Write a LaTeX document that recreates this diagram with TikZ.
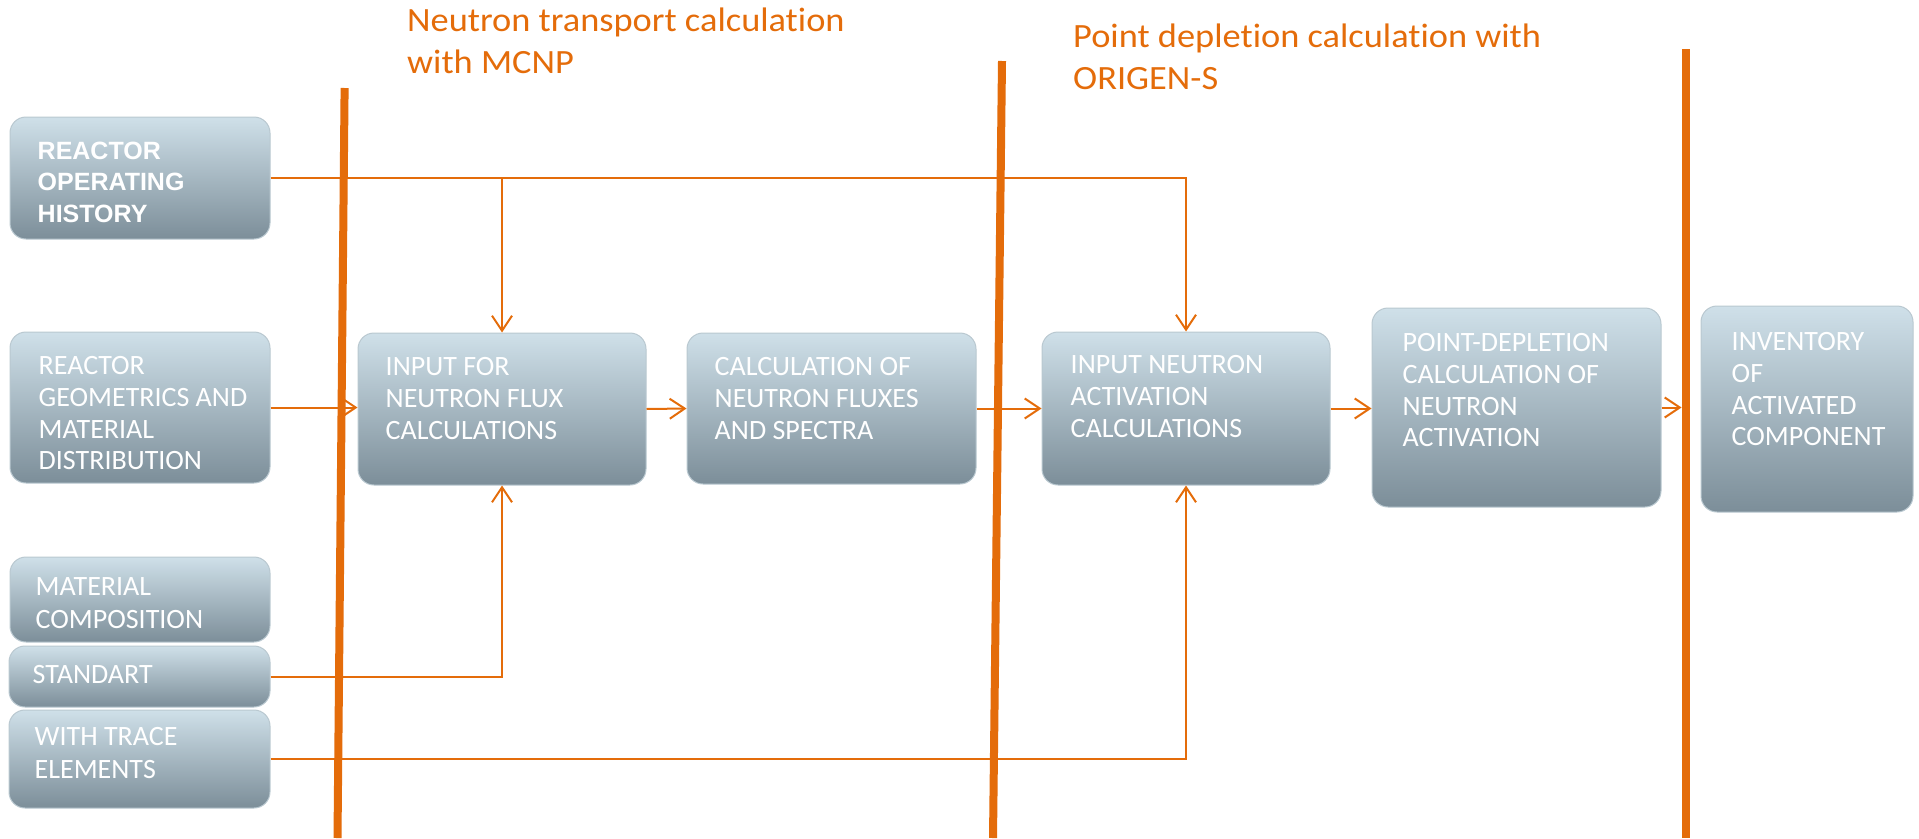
\documentclass[tikz,border=0pt]{standalone}
\usepackage{fontspec}
\setmainfont[Ligatures=NoCommon]{Carlito}
\newfontfamily\titlefont[FakeStretch=1.07,Ligatures=NoCommon]{Carlito}
\newfontfamily\boldsans{Liberation Sans}
\usetikzlibrary{arrows.meta,calc}
\definecolor{orng}{HTML}{E46C0A}
\definecolor{boxtop}{HTML}{CFE0E9}
\definecolor{boxbot}{HTML}{7C8E99}
\definecolor{boxline}{HTML}{B9C8D0}
\begin{document}
\begin{tikzpicture}[x=1pt,y=-1pt,
  box/.style={rectangle, rounded corners=16pt, draw=boxline, line width=1pt,
    top color=boxtop, bottom color=boxbot, inner sep=0pt},
  txt/.style={anchor=north west, inner sep=0pt, align=left, text=white,
    font=\fontsize{28}{31.7}\selectfont},
  boldtxt/.style={anchor=north west, inner sep=0pt, align=left, text=white,
    font=\boldsans\bfseries\fontsize{25}{31.7}\selectfont},
  conn/.style={draw=orng, line width=2pt, -{Straight Barb[length=15pt,width=20pt]}},
  sepline/.style={draw=orng, line width=8pt},
  titletxt/.style={anchor=north west, inner sep=0pt, align=left, text=orng,
    font=\titlefont\fontsize{34}{42}\selectfont}]
\useasboundingbox (0,0) rectangle (1919,838);

% boxes
\node[box, minimum width=260pt, minimum height=122pt] (b1) at (140,178) {};
\node[box, minimum width=260pt, minimum height=151pt] (b2) at (140,407.5) {};
\node[box, minimum width=260pt, minimum height=85pt] (b3) at (140,599.5) {};
\node[box, minimum width=261pt, minimum height=61pt] (b4) at (139.5,676.5) {};
\node[box, minimum width=261pt, minimum height=98pt] (b5) at (139.5,759) {};
\node[box, minimum width=288pt, minimum height=152pt] (influx) at (502,409) {};
\node[box, minimum width=289pt, minimum height=151pt] (calc) at (831.5,408.5) {};
\node[box, minimum width=288pt, minimum height=153pt] (inact) at (1186,408.5) {};
\node[box, minimum width=289pt, minimum height=199pt] (pd) at (1516.5,407.5) {};
\node[box, minimum width=212pt, minimum height=206pt] (inv) at (1807,409) {};

% texts
\node[boldtxt] (t1) at ($(b1.north west)+(28,25)$) {REACTOR\\OPERATING\\HISTORY};
\node[txt] (t2) at ($(b2.north west)+(29,25)$) {REACTOR\\GEOMETRICS AND\\MATERIAL\\DISTRIBUTION};
\node[txt, font=\fontsize{28}{33}\selectfont] (t3) at ($(b3.north west)+(26,21)$) {MATERIAL\\COMPOSITION};
\node[txt] (t4) at ($(b4.north west)+(24,20)$) {STANDART};
\node[txt, font=\fontsize{28}{33}\selectfont] (t5) at ($(b5.north west)+(26,18)$) {WITH TRACE\\ELEMENTS};
\node[txt] (t6) at ($(influx.north west)+(28,25)$) {INPUT FOR\\NEUTRON FLUX\\CALCULATIONS};
\node[txt] (t7) at ($(calc.north west)+(28,25)$) {CALCULATION OF\\NEUTRON FLUXES\\AND SPECTRA};
\node[txt] (t8) at ($(inact.north west)+(29,24)$) {INPUT NEUTRON\\ACTIVATION\\CALCULATIONS};
\node[txt] (t9) at ($(pd.north west)+(31,26)$) {POINT-DEPLETION\\CALCULATION OF\\NEUTRON\\ACTIVATION};
\node[txt] (t10) at ($(inv.north west)+(31,27)$) {INVENTORY\\OF\\ACTIVATED\\COMPONENT};

% titles
\node[titletxt] (ti1) at (407,8) {Neutron transport calculation\\with MCNP};
\node[titletxt] (ti2) at (1073,24) {Point depletion calculation with\\ORIGEN-S};

% connectors
\draw[conn] (b1.east) -| (inact.north);
\draw[conn] (b1.east -| influx.north) -- (influx.north);
\draw[conn] (b2.east) -- (b2.east -| influx.west);
\draw[conn] (influx.east) -- (calc.west);
\draw[conn] (calc.east) -- (calc.east -| inact.west);
\draw[conn] (inact.east) -- (inact.east -| pd.west);
\draw[conn, shorten >=19pt] (pd.east) -- (pd.east -| inv.west);
\draw[conn] (b4.east) -| (influx.south);
\draw[conn] (b5.east) -| (inact.south);

% separator lines
\coordinate (s1t) at (344.6,88);  \coordinate (s1b) at (337.5,838);
\coordinate (s2t) at (1002,61);   \coordinate (s2b) at (993,838);
\coordinate (s3t) at (1685.5,49); \coordinate (s3b) at (1685.5,838);
\draw[sepline] (s1t) -- (s1b);
\draw[sepline] (s2t) -- (s2b);
\draw[sepline] (s3t) -- (s3b);
\end{tikzpicture}
\end{document}
